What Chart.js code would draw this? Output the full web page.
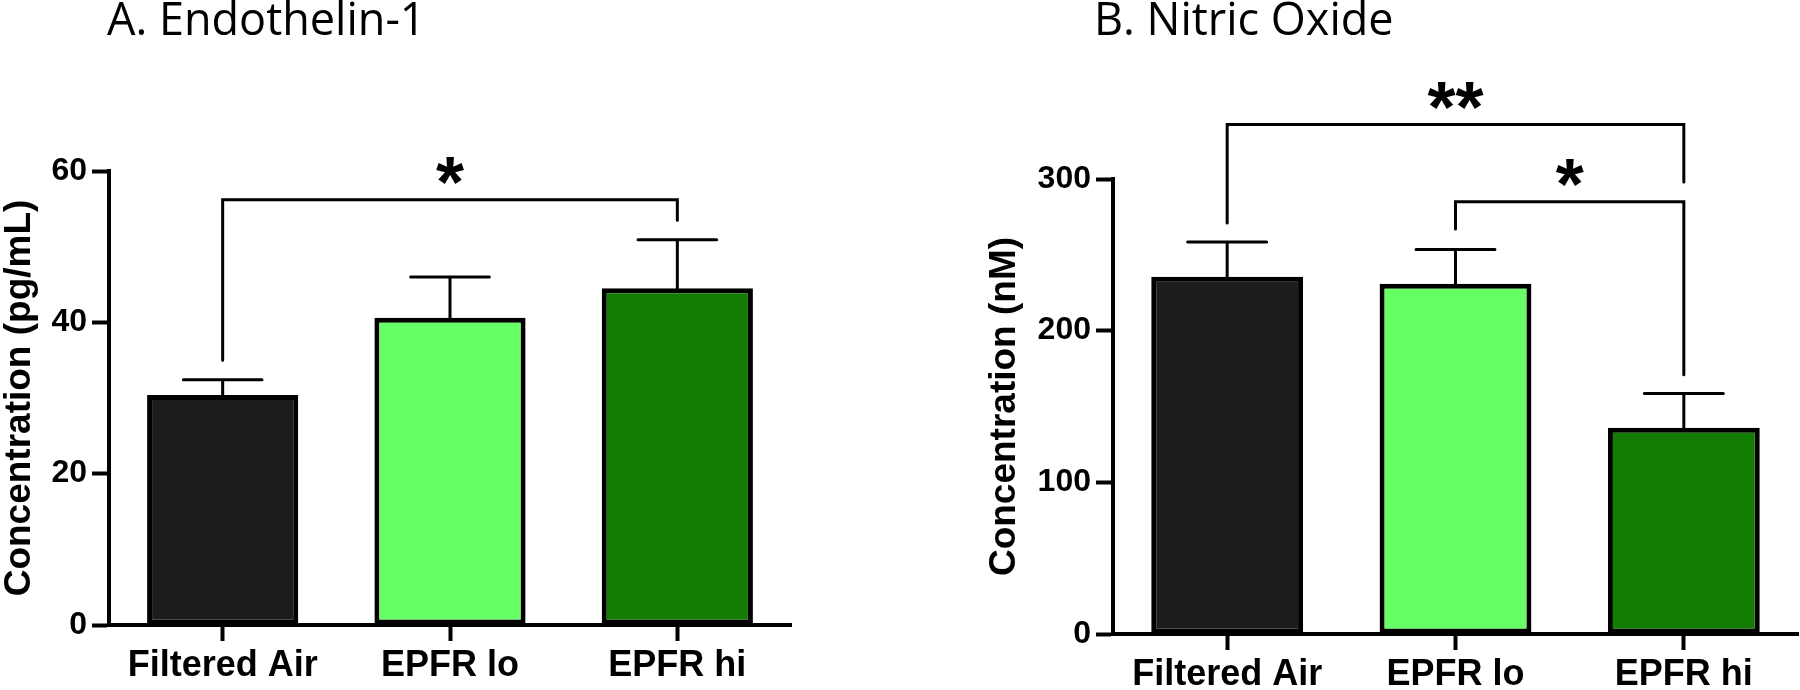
<!DOCTYPE html>
<html>
<head>
<meta charset="utf-8">
<script src="https://cdn.jsdelivr.net/npm/chart.js@4.4.1/dist/chart.umd.min.js"></script>
<style>
  body { margin: 0; background: #fff; }
  .panel { position: absolute; top: 0; width: 900px; height: 690px; }
</style>
</head>
<body>
<div class="panel" style="left:0"><canvas id="chart-a"></canvas></div>
<div class="panel" style="left:900px"><canvas id="chart-b"></canvas></div>
<script>
/* eslint-disable no-undef */
const groups = ['Filtered Air', 'EPFR lo', 'EPFR hi']
const barColors = ['#1c1c1c', '#66ff66', '#127c03']

// A. Endothelin-1 (pg/mL), mean and SEM
const et1Mean = [30.4, 40.6, 44.5]
const et1Sem = [2.0, 5.4, 6.4]
const et1Ticks = [0, 20, 40, 60]
// [from group, to group, bracket level, left leg end, right leg end, label]
const et1Sig = [[0, 2, 56.2, 35.0, 53.5, '*']]

// B. Nitric Oxide (nM), mean and SEM
const noMean = [235.5, 231, 136]
const noSem = [23, 22.5, 22.5]
const noTicks = [0, 100, 200, 300]
const noSig = [[0, 2, 336, 271, 298, '**'], [1, 2, 285, 267, 171, '*']]

const axisFont = 'Liberation Sans'

const errorBars = {
  id: 'errorBars',
  afterDatasetsDraw (chart, args, opts) {
    const ctx = chart.ctx
    const y = chart.scales.y
    const bars = chart.getDatasetMeta(0).data
    ctx.save()
    ctx.strokeStyle = '#000'
    ctx.lineWidth = 3
    ctx.lineCap = 'round'
    bars.forEach((bar, i) => {
      const top = y.getPixelForValue(opts.mean[i] + opts.sem[i])
      const half = bar.width * 0.26
      ctx.beginPath()
      ctx.moveTo(bar.x, bar.y)
      ctx.lineTo(bar.x, top)
      ctx.moveTo(bar.x - half, top)
      ctx.lineTo(bar.x + half, top)
      ctx.stroke()
    })
    ctx.restore()
  }
}

const brackets = {
  id: 'brackets',
  afterDraw (chart, args, opts) {
    const ctx = chart.ctx
    const x = chart.scales.x
    const y = chart.scales.y
    ctx.save()
    ctx.strokeStyle = '#000'
    ctx.fillStyle = '#000'
    ctx.lineWidth = 3
    ctx.lineCap = 'round'
    ctx.font = 'bold 72px "' + axisFont + '"'
    ctx.textAlign = 'center'
    ctx.textBaseline = 'alphabetic'
    opts.list.forEach(([a, b, lvl, endA, endB, label]) => {
      const xa = x.getPixelForValue(a)
      const xb = x.getPixelForValue(b)
      const yl = y.getPixelForValue(lvl)
      ctx.beginPath()
      ctx.moveTo(xa, y.getPixelForValue(endA))
      ctx.lineTo(xa, yl)
      ctx.lineTo(xb, yl)
      ctx.lineTo(xb, y.getPixelForValue(endB))
      ctx.stroke()
      const m = ctx.measureText(label)
      const mid = yl - 29
      ctx.fillText(label, (xa + xb) / 2, mid + (m.actualBoundingBoxAscent - m.actualBoundingBoxDescent) / 2)
    })
    ctx.restore()
  }
}

const panelTitle = {
  id: 'panelTitle',
  afterDraw (chart, args, opts) {
    const ctx = chart.ctx
    ctx.save()
    ctx.fillStyle = '#000'
    ctx.font = '45px "Open Sans"'
    ctx.textAlign = 'left'
    ctx.textBaseline = 'alphabetic'
    ctx.fillText(opts.text, opts.x, 35)
    ctx.restore()
  }
}

function makeChart (id, cfg) {
  return new Chart(document.getElementById(id).getContext('2d'), {
    type: 'bar',
    data: {
      labels: groups,
      datasets: [{
        data: cfg.mean,
        backgroundColor: barColors,
        borderColor: '#000',
        borderWidth: 5,
        borderSkipped: false,
        barPercentage: 0.665,
        categoryPercentage: 1
      }]
    },
    plugins: [errorBars, brackets, panelTitle],
    options: {
      responsive: true,
      maintainAspectRatio: false,
      animation: false,
      layout: { padding: { top: cfg.top, right: cfg.right, left: 0, bottom: 0 } },
      plugins: {
        legend: { display: false },
        tooltip: { enabled: false },
        errorBars: { mean: cfg.mean, sem: cfg.sem },
        brackets: { list: cfg.sig },
        panelTitle: { text: cfg.title, x: cfg.titleX }
      },
      scales: {
        x: {
          afterFit: s => { s.height = cfg.xHeight },
          border: { display: true, width: 4, color: '#000' },
          grid: { offset: false, drawOnChartArea: false, tickLength: 16, tickWidth: 4, tickColor: '#000' },
          ticks: { color: '#000', padding: 3, font: { family: axisFont, size: 36, weight: 'bold' } }
        },
        y: {
          min: 0,
          max: cfg.ticks[cfg.ticks.length - 1],
          afterBuildTicks: s => { s.ticks = cfg.ticks.map(v => ({ value: v })) },
          afterFit: s => { s.width = cfg.yWidth },
          border: { display: true, width: 4, color: '#000' },
          grid: { drawOnChartArea: false, tickLength: 17, tickWidth: 4, tickColor: '#000' },
          ticks: { color: '#000', padding: 5, font: { family: axisFont, size: 32, weight: 'bold' } },
          title: {
            display: true,
            text: cfg.yTitle,
            color: '#000',
            padding: { top: cfg.yTitlePad, bottom: 0 },
            font: { family: axisFont, size: 37, weight: 'bold' }
          }
        }
      }
    }
  })
}

const chartA = makeChart('chart-a', {
  mean: et1Mean, sem: et1Sem, ticks: et1Ticks, sig: et1Sig,
  title: 'A. Endothelin-1', titleX: 107, yTitle: 'Concentration (pg/mL)',
  top: 171, right: 109, yWidth: 109, xHeight: 65, yTitlePad: -2
})

const chartB = makeChart('chart-b', {
  mean: noMean, sem: noSem, ticks: noTicks, sig: noSig,
  title: 'B. Nitric Oxide', titleX: 194, yTitle: 'Concentration (nM)',
  top: 179, right: 2, yWidth: 213, xHeight: 56, yTitlePad: 83
})
</script>
</body>
</html>
